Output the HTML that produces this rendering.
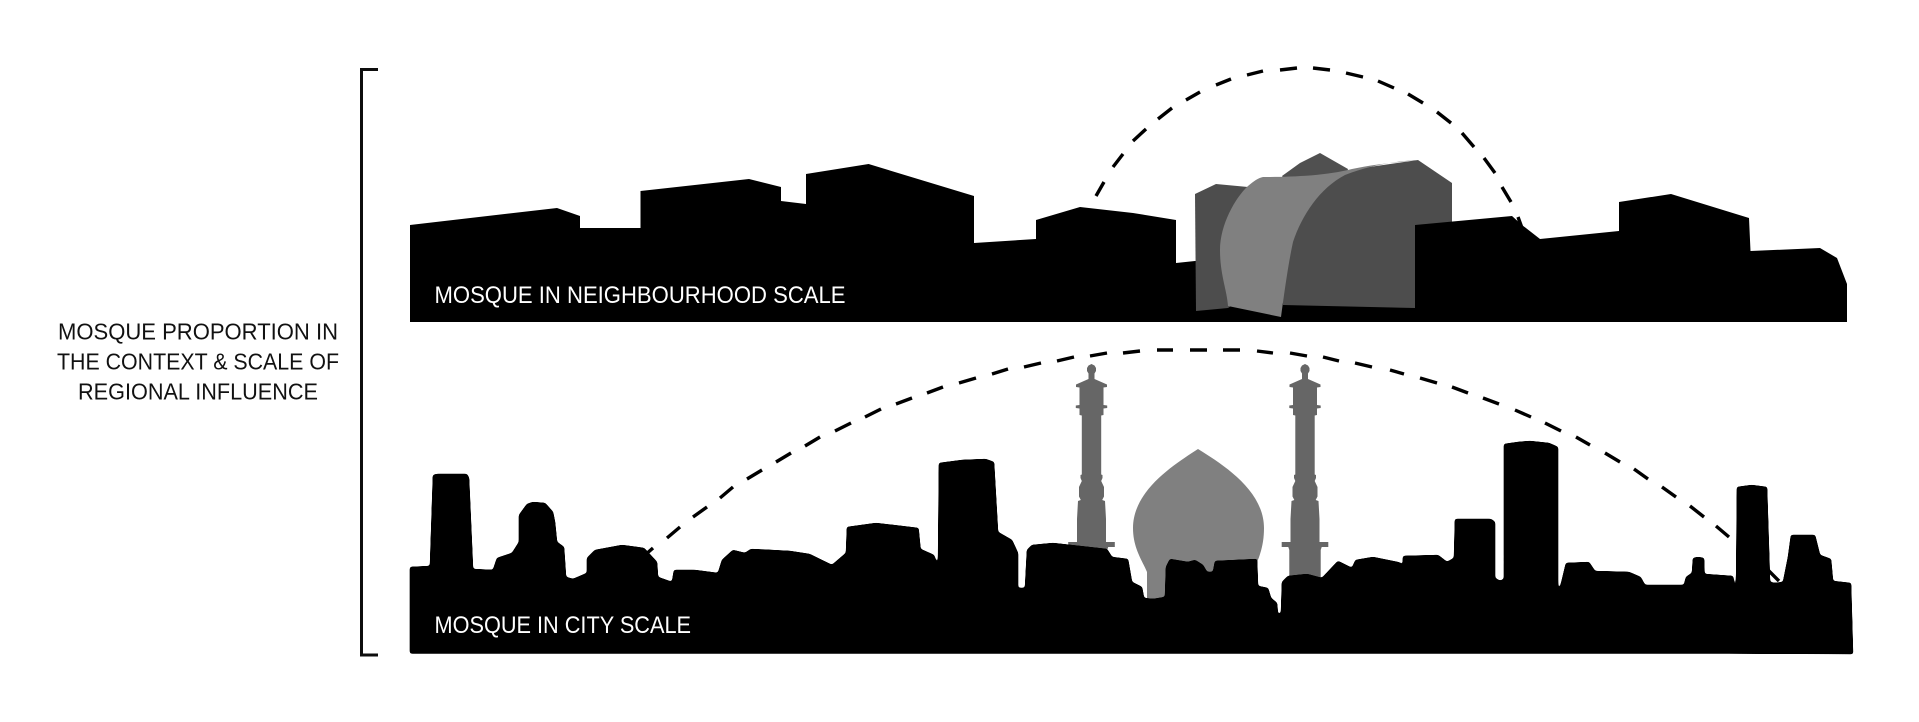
<!DOCTYPE html>
<html>
<head>
<meta charset="utf-8">
<style>
html,body{margin:0;padding:0;background:#fff;width:1919px;height:722px;overflow:hidden}
svg{display:block}
text{font-family:"Liberation Sans",sans-serif}
</style>
</head>
<body>
<svg width="1919" height="722" viewBox="0 0 1919 722" xmlns="http://www.w3.org/2000/svg">
<defs>
<filter id="r" filterUnits="userSpaceOnUse" x="380" y="430" width="1500" height="250">
<feGaussianBlur stdDeviation="1.3"/>
<feComponentTransfer><feFuncA type="linear" slope="10" intercept="-4.5"/></feComponentTransfer>
</filter>
<polygon id="m" fill="#666" points="0,364 3,365.5 4.5,368 4.5,371 3,373.5 3,379 15.5,384.5 15.5,387 12,387.5 12,405 15.7,405.5 15.7,408 12,408.5 12,415 9.7,415.5 9.7,474.5 11,475 11,478 9.7,481 12.5,487 12.5,496.5 10.7,500 13.5,501 14.5,519 14.5,542 23.3,542 23.3,547 16.7,547 15.7,550 15.7,590 -15.7,590 -15.7,550 -16.7,547 -23.3,547 -23.3,542 -14.5,542 -14.5,519 -13.5,501 -10.7,500 -12.5,496.5 -12.5,487 -9.7,481 -11,478 -11,475 -9.7,474.5 -9.7,415.5 -12,415 -12,408.5 -15.7,408 -15.7,405.5 -12,405 -12,387.5 -15.5,387 -15.5,384.5 -3,379 -3,373.5 -4.5,371 -4.5,368 -3,365.5"/>
</defs>
<rect width="1919" height="722" fill="#fff"/>

<path d="M378,69.5H361.5V655H378" fill="none" stroke="#0d0d0d" stroke-width="3"/>

<g fill="#111" font-size="23.5">
<text x="58" y="339.5" textLength="280" lengthAdjust="spacingAndGlyphs">MOSQUE PROPORTION IN</text>
<text x="57" y="369.5" textLength="282" lengthAdjust="spacingAndGlyphs">THE CONTEXT &amp; SCALE OF</text>
<text x="78" y="399.5" textLength="240" lengthAdjust="spacingAndGlyphs">REGIONAL INFLUENCE</text>
</g>

<!-- neighbourhood arc dashes -->
<path fill="none" stroke="#000" stroke-width="3.4" d="M1096,196L1104,182M1113,167L1123,154M1133,141L1146,129M1158,119L1172,108M1186,100L1200,92M1216,85L1231,79M1247,75L1263,71M1280,70L1297,68M1313,68L1330,70M1346,73L1363,77M1378,81L1394,88M1408,94L1423,103M1437,112L1451,123M1462,133L1474,147M1484,158L1495,173M1502,187L1511,202M1518,217L1522,228"/>

<!-- neighbourhood skyline, back -->
<polygon fill="#000" points="410,225 557,208 580,216 580,228 640.5,228 640.5,191 749,179 781,187 781,201 806,204 806,174 868.6,164 974,196 974,243 1036,239 1036,220 1080,207 1133,213 1176,220 1176,263 1195,261 1415,261 1415,322 410,322"/>

<!-- modern mosque -->
<polygon fill="#505050" points="1282,176 1300,163 1320,153 1334,161 1348,169 1345,178 1285,181"/>
<polygon fill="#4d4d4d" points="1195,194 1216,184 1248,187 1250,210 1240,300 1228,308 1196,311"/>
<polygon fill="#4d4d4d" points="1352,169.5 1418,160 1452,183 1452,300 1415,308 1283,305 1283,240 1300,185 1330,178"/>
<path fill="#808080" d="M1263,177C1290,177 1325,176 1352,169C1375,164 1400,162 1418,160C1395,161 1368,166 1345,175C1320,188 1302,215 1293,242C1288,265 1284,295 1281,317L1228,306C1227,290 1220,275 1220,250C1220,225 1235,198 1248,186C1254,181 1258,178 1263,177Z"/>

<!-- neighbourhood skyline, front -->
<polygon fill="#000" points="1415,225 1512,216 1522,225 1540,239 1619,231 1619,202 1671,194 1749,218 1750.5,251 1820,248 1837,258 1847,284 1847,322 1415,322"/>

<text x="434.5" y="303" fill="#fff" font-size="24" textLength="411" lengthAdjust="spacingAndGlyphs">MOSQUE IN NEIGHBOURHOOD SCALE</text>

<!-- city arc dashes -->
<path fill="none" stroke="#000" stroke-width="3.4" d="M645,555L653,548M667,538L680,527M693,517L707,507M720,498L733,487M747,479L762,470M776,462L791,453M805,446L820,437M835,431L851,423M865,417L881,409M896,404L912,398M927,393L943,387M959,383L976,378M992,374L1008,369M1024,367L1041,363M1057,361L1074,357M1090,356L1107,353M1123,353L1140,351M1157,350L1173,350M1190,350L1207,350M1223,350L1240,350M1257,351L1273,353M1290,353L1307,356M1323,357L1339,361M1355,363L1372,367M1390,370L1404,374M1420,378L1437,383M1452,387L1468,393M1483,398L1499,404M1515,410L1531,417M1545,423L1561,431M1576,437L1590,445M1605,453L1620,462M1634,469L1648,479M1662,487L1676,497M1690,506L1704,517M1716,526L1729,537M1765,567L1779,581"/>

<!-- minarets -->
<use href="#m" transform="translate(1091.5,0)"/>
<use href="#m" transform="translate(1305,0)"/>

<!-- dome -->
<path fill="#808080" d="M1198,449C1175,464 1133,490 1133,528C1133,548 1142,560 1147,572L1147,600L1250,600L1253,572C1258,560 1264,548 1264,528C1264,490 1222,464 1198,449Z"/>

<!-- city skyline -->
<g filter="url(#r)">
<polygon fill="#000" stroke="#000" stroke-width="0.6" stroke-linejoin="round" points="410,567 430,566 433,475 437,474 467,474 469,478 473,569 493,570 497,558 512,553 519,542 519,515 527,504 533,502 545,503 553,512 555,522 557,542 564,547 566,577 573,579 587,573 587,558 595,550 622,545 644,548 657,562 658,577 672,582 674,570 695,570 718,573 722,560 733,550 745,553 751,549 790,551 809.5,554 832,565 846,553 847,527 876,523 918.5,528 920.5,549 934,555 938,567 939,463 962,460 985.5,459 994,462 998,532 1012,540 1018,553 1018,588 1025,588 1027,550 1032,545 1053,543 1107,549 1112,557 1128,559 1132,582 1142,587 1144,598 1153,599 1165,597 1166,567 1170,559 1188,562 1195,560 1203,565 1207,572 1213,572 1215,561 1257,559 1258,586 1268,588 1271,598 1277,603 1278,615 1281,613 1282,582 1288,576 1307,574 1322,578 1338,561 1352,568 1355.5,560 1373,557 1397.6,562 1401,563 1402.6,582 1403,556 1438,555 1447,562 1454,558 1455,519 1491,519 1495,522 1495,578 1500,581 1504,579 1504,444 1518,442 1530,441 1549,443 1558,447 1558,588 1560,588 1566,563 1589,562 1595,571 1629,572 1640.6,577 1645,585 1684,585 1686,577 1692,573 1693,558 1698,557 1704,558 1704.5,574 1733,576 1736,598 1737,487 1751.6,485 1767,487 1770,582 1774.6,583 1783,582 1788,557 1791,535 1815,535 1820,555 1831,559 1833,581 1851,583 1853,654 1728,653.5 410,653.5"/>
</g>

<text x="434.5" y="633" fill="#fff" font-size="24" textLength="256.5" lengthAdjust="spacingAndGlyphs">MOSQUE IN CITY SCALE</text>
</svg>
</body>
</html>
